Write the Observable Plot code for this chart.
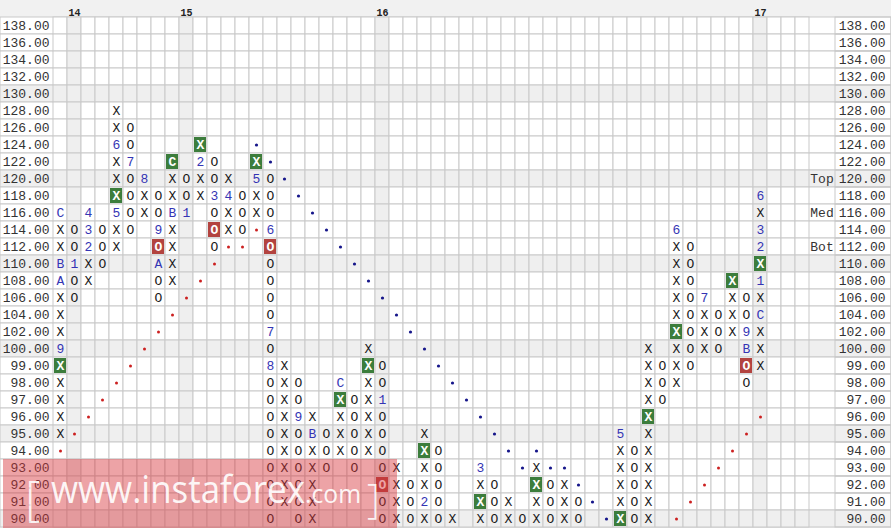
<!DOCTYPE html>
<html>
<head>
<meta charset="utf-8">
<script src="https://cdn.jsdelivr.net/npm/d3@7"></script>
<script src="https://cdn.jsdelivr.net/npm/@observablehq/plot@0.6"></script>
<style>
  html, body { margin: 0; padding: 0; background: #fff; }
  #wrap { position: relative; width: 891px; height: 528px; overflow: hidden; }
  #wm { position: absolute; left: 3px; top: 459px; width: 394px; height: 69px; background: rgba(215,50,57,0.45); pointer-events: none; }
  #wmsvg { position: absolute; left: 0; top: 0; }
</style>
</head>
<body>
<div id="wrap"></div>
<script>
// ---- price rows (tick labels) ----
const prices = [138,136,134,132,130,128,126,124,122,120,118,116,114,112,110,108,106,104,102,100,99,98,97,96,95,94,93,92,91,90];
const grayRows = [130,120,110,100,95,90];
const nCols = 54;
const yearCols = [1, 9, 23, 50];
const yearNames = ["14", "15", "16", "17"];

// ---- point & figure columns ----
const colIndex = [0,1,2,3,4,5,6,7,8,9,10,11,12,13,14,15,16,17,18,19,20,21,22,23,24,25,26,27,28,30,31,32,33,34,35,36,37,40,41,42,43,44,45,46,47,48,49,50];
const colType  = ["X","O","X","O","X","O","X","O","X","O","X","O","X","O","X","O","X","O","X","O","X","O","X","O","X","O","X","O","X","X","O","X","O","X","O","X","O","X","O","X","O","X","O","X","O","X","O","X"];
const colLow   = [95,106,108,110,112,114,116,106,108,116,118,112,114,114,116,90,91,90,90,93,94,93,94,90,90,90,90,90,90,90,90,90,90,90,90,90,90,90,90,90,97,98,99,100,100,102,98,99];
const colHigh  = [116,114,116,114,128,126,120,118,122,120,124,122,120,118,122,120,99,98,96,95,98,97,100,99,93,92,95,94,90,93,92,91,90,93,92,92,91,95,94,100,99,114,112,106,104,108,106,118];

// ---- month markers ----
const monthCol   = [0,0,0,0,1,2,2,2,4,4,5,6,7,7,8,8,9,10,11,12,14,15,15,15,17,18,20,23,26,30,40,44,46,49,49,50,50,50,50,50];
const monthPrice = [116,110,108,100,110,112,114,116,116,124,122,120,114,110,116,122,116,122,118,118,120,114,102,99,96,95,98,97,91,93,95,114,106,102,100,104,108,112,114,118];
const monthText  = ["C","B","A","9","1","2","3","4","5","6","7","8","9","A","B","C","1","2","3","4","5","6","7","8","9","B","C","1","2","3","5","6","7","9","B","C","1","2","3","6"];

// ---- highlighted boxes ----
const greenCol   = [0,4,8,10,14,20,22,26,30,34,40,42,44,48,50];
const greenPrice = [99,118,122,124,122,97,99,94,91,92,90,96,102,108,110];
const redCol     = [7,11,15,23,49];
const redPrice   = [112,114,112,92,99];

// ---- trend lines (dots) ----
const blueDotCol   = [14,15,16,17,18,19,20,21,22,23,24,25,26,27,28,29,30,31,32,33,34,35,36,37,38,39];
const blueDotPrice = [124,122,120,118,116,114,112,110,108,106,104,102,100,99,98,97,96,95,94,93,94,93,93,92,91,90];
const redDotCol    = [0,1,2,3,4,5,6,7,8,9,10,11,12,13,14,44,45,46,47,48,49,50];
const redDotPrice  = [94,95,96,97,98,99,100,102,104,106,108,110,112,112,114,90,91,92,93,94,95,96];

// ---- side labels ----
const sideText  = ["Top", "Med", "Bot"];
const sidePrice = [120, 116, 112];

// ---- build tables ----
const key = (c, p) => c + "|" + p;
const monthMap = new Map(monthCol.map((c, i) => [key(c, monthPrice[i]), monthText[i]]));
const greenSet = new Set(greenCol.map((c, i) => key(c, greenPrice[i])));
const redSet = new Set(redCol.map((c, i) => key(c, redPrice[i])));

const boxes = [];
colIndex.forEach((c, i) => {
  prices.forEach(p => {
    if (p >= colLow[i] && p <= colHigh[i]) {
      const k = key(c, p);
      const m = monthMap.get(k);
      const hl = greenSet.has(k) || redSet.has(k);
      boxes.push({col: c, price: p, label: m !== undefined ? m : colType[i], kind: hl ? "box" : (m !== undefined ? "month" : "plain")});
    }
  });
});

const gridCells = d3.cross(d3.range(nCols), prices).map(([c, p]) => ({col: c, price: p, gray: yearCols.includes(c) || grayRows.includes(p)}));
const greens = greenCol.map((c, i) => ({col: c, price: greenPrice[i]}));
const reds = redCol.map((c, i) => ({col: c, price: redPrice[i]}));
const blueDots = blueDotCol.map((c, i) => ({col: c, price: blueDotPrice[i]}));
const redDots = redDotCol.map((c, i) => ({col: c, price: redDotPrice[i]}));
const years = yearCols.map((c, i) => ({col: c, name: yearNames[i]}));
const sides = sideText.map((t, i) => ({text: t, price: sidePrice[i]}));

const GRID = "#c9c9c9", GRAY = "#efefef", MONO = "Liberation Mono, Courier New, monospace";

const chart = Plot.plot({
  width: 891,
  height: 528,
  marginLeft: 53,
  marginRight: 82,
  marginTop: 17,
  marginBottom: 1,
  style: {background: "#f1f1f1", fontFamily: MONO},
  x: {type: "band", domain: d3.range(nCols), padding: 0, axis: null},
  y: {type: "band", domain: prices, padding: 0, axis: null},
  marks: [
    // full-width row bands
    Plot.cell(prices, {y: d => d, fill: d => grayRows.includes(d) ? GRAY : "#fff", stroke: GRID, insetLeft: -53, insetRight: -82}),
    // grid cells
    Plot.cell(gridCells, {x: "col", y: "price", fill: d => d.gray ? GRAY : "#fff", stroke: GRID}),
    // right label box
    Plot.cell(prices, {y: d => d, fill: "none", stroke: GRID, insetLeft: 782, insetRight: -82}),
    // highlighted boxes
    Plot.cell(greens, {x: "col", y: "price", fill: "#3c7d3c", inset: 1}),
    Plot.cell(reds, {x: "col", y: "price", fill: "#b3433f", inset: 1}),
    // X / O
    Plot.text(boxes.filter(d => d.kind === "plain"), {x: "col", y: "price", text: "label", fill: "#1a1a1a", fontSize: 13, fontFamily: MONO}),
    Plot.text(boxes.filter(d => d.kind === "month"), {x: "col", y: "price", text: "label", fill: "#3434b4", fontSize: 13, fontFamily: MONO}),
    Plot.text(boxes.filter(d => d.kind === "box"), {x: "col", y: "price", text: "label", fill: "#fff", fontSize: 13, fontWeight: "bold", fontFamily: MONO}),
    // trend dots
    Plot.dot(blueDots, {x: "col", y: "price", r: 1.6, fill: "#16168a", stroke: null}),
    Plot.dot(redDots, {x: "col", y: "price", r: 1.5, fill: "#cc2020", stroke: null}),
    // price labels
    Plot.text(prices, {y: d => d, text: d => d.toFixed(2), frameAnchor: "left", dx: -4, textAnchor: "end", fontSize: 13, fill: "#333", fontFamily: MONO}),
    Plot.text(prices, {y: d => d, text: d => d.toFixed(2), frameAnchor: "right", dx: 76, textAnchor: "end", fontSize: 13, fill: "#333", fontFamily: MONO}),
    // side labels
    Plot.text(sides, {y: "price", text: "text", frameAnchor: "right", dx: 12.5, textAnchor: "middle", fontSize: 13, fill: "#333", fontFamily: MONO}),
    // year labels
    Plot.text(years, {x: "col", text: "name", frameAnchor: "top", dy: -8.5, fontSize: 10, fontWeight: "bold", fill: "#222", fontFamily: MONO})
  ]
});

const wrap = document.getElementById("wrap");
wrap.appendChild(chart);
const wm = document.createElement("div");
wm.id = "wm";
wm.innerHTML = `<svg id="wmsvg" width="394" height="69" xmlns="http://www.w3.org/2000/svg">
  <text x="22" y="56" font-family="Open Sans, DejaVu Sans, sans-serif" font-size="48" font-weight="300" fill="rgba(255,255,255,0.9)">[</text>
  <text x="48" y="44" font-family="Open Sans, DejaVu Sans, sans-serif" font-size="38" fill="rgba(255,255,255,0.92)" textLength="254" lengthAdjust="spacingAndGlyphs">www.instaforex</text>
  <text x="302" y="44" font-family="Open Sans, DejaVu Sans, sans-serif" font-size="25" fill="rgba(255,255,255,0.92)" textLength="56" lengthAdjust="spacingAndGlyphs">.com</text>
  <text x="364" y="54" font-family="Open Sans, DejaVu Sans, sans-serif" font-size="40" font-weight="300" fill="rgba(255,255,255,0.9)">]</text>
</svg>`;
wrap.appendChild(wm);
</script>
</body>
</html>
